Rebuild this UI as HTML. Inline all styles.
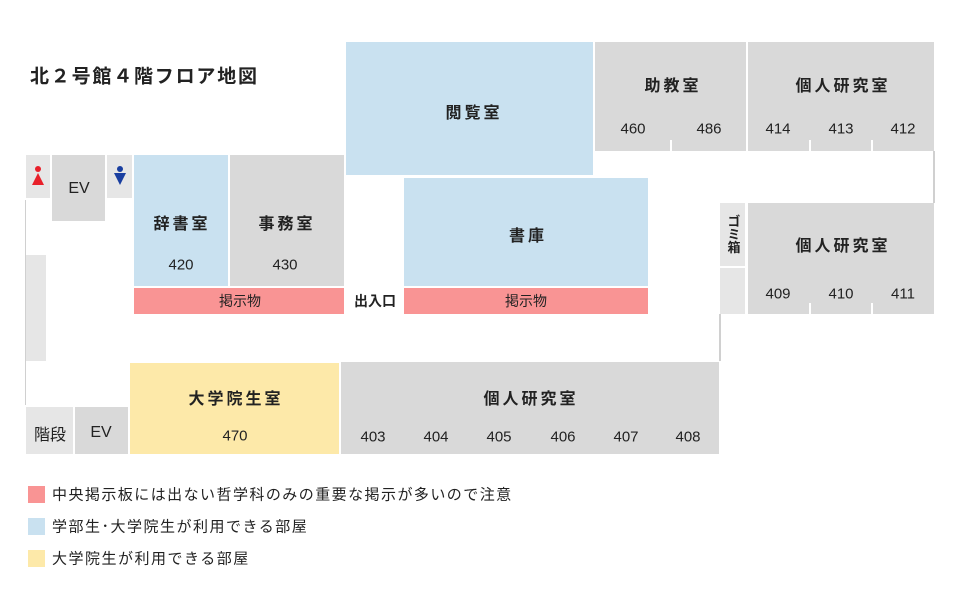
<!DOCTYPE html>
<html><head><meta charset="utf-8"><style>
body{margin:0;width:960px;height:615px;background:#fff;position:relative;overflow:hidden;font-family:"Liberation Sans","Noto Sans CJK JP",sans-serif;color:#222}
.b{position:absolute}
.g{background:#d9d9d9}.l{background:#e6e6e6}.bl{background:#c9e1f0}.y{background:#fde9a9}.p{background:#f99494}
.t{position:absolute;transform:translate(-50%,-50%);white-space:nowrap;font-size:15px}
.n{font-weight:bold;letter-spacing:3px;font-size:16px}
.line{position:absolute;background:#d0d0d0}
.tick{position:absolute;background:#fff;width:2px}
</style></head><body>
<div class="t" style="left:30px;top:75px;transform:translateY(-50%);font-size:19px;font-weight:bold;letter-spacing:1.8px">北２号館４階フロア地図</div>

<div class="b bl" style="left:346px;top:42px;width:247px;height:133px"></div>
<div class="t n" style="left:474px;top:111px">閲覧室</div>
<div class="b g" style="left:595px;top:42px;width:151px;height:109px"></div>
<div class="t n" style="left:673px;top:84px">助教室</div>
<div class="t" style="left:633px;top:129px">460</div><div class="t" style="left:709px;top:129px">486</div>
<div class="tick" style="left:670px;top:140px;height:11px"></div>
<div class="b g" style="left:748px;top:42px;width:186px;height:109px"></div>
<div class="t n" style="left:843px;top:84px">個人研究室</div>
<div class="t" style="left:778px;top:129px">414</div><div class="t" style="left:841px;top:129px">413</div><div class="t" style="left:903px;top:129px">412</div>
<div class="tick" style="left:809px;top:140px;height:11px"></div><div class="tick" style="left:871px;top:140px;height:11px"></div>
<div class="line" style="left:933px;top:151px;width:2px;height:52px"></div>

<div class="b l" style="left:720px;top:203px;width:25px;height:63px"></div>
<div class="t" style="left:733px;top:234px;writing-mode:vertical-rl;font-size:13px;font-weight:bold">ゴミ箱</div>
<div class="b l" style="left:720px;top:268px;width:25px;height:46px"></div>
<div class="b g" style="left:748px;top:203px;width:186px;height:111px"></div>
<div class="t n" style="left:843px;top:244px">個人研究室</div>
<div class="t" style="left:778px;top:294px">409</div><div class="t" style="left:841px;top:294px">410</div><div class="t" style="left:903px;top:294px">411</div>
<div class="tick" style="left:809px;top:303px;height:11px"></div><div class="tick" style="left:871px;top:303px;height:11px"></div>
<div class="line" style="left:719px;top:314px;width:2px;height:47px"></div>

<div class="b bl" style="left:404px;top:178px;width:244px;height:108px"></div>
<div class="t n" style="left:528px;top:234px">書庫</div>
<div class="b p" style="left:404px;top:288px;width:244px;height:26px"></div>
<div class="t" style="left:526px;top:301px;font-size:14px">掲示物</div>
<div class="t" style="left:375px;top:301px;font-size:14px;font-weight:bold">出入口</div>

<div class="b l" style="left:26px;top:155px;width:24px;height:43px"></div>
<svg class="b" style="left:31px;top:166px" width="14" height="22"><circle cx="7" cy="3" r="3" fill="#e8202a"/><polygon points="7,7 13,19 1,19" fill="#e8202a"/></svg>
<div class="b g" style="left:52px;top:155px;width:53px;height:66px"></div>
<div class="t" style="left:79px;top:189px;font-size:16px">EV</div>
<div class="b l" style="left:107px;top:155px;width:25px;height:43px"></div>
<svg class="b" style="left:113px;top:166px" width="14" height="22"><circle cx="7" cy="3" r="3" fill="#1a3fa0"/><polygon points="1,7 13,7 7,19" fill="#1a3fa0"/></svg>
<div class="b bl" style="left:134px;top:155px;width:94px;height:131px"></div>
<div class="t n" style="left:182px;top:222px">辞書室</div>
<div class="t" style="left:181px;top:265px">420</div>
<div class="b g" style="left:230px;top:155px;width:114px;height:131px"></div>
<div class="t n" style="left:287px;top:222px">事務室</div>
<div class="t" style="left:285px;top:265px">430</div>
<div class="b p" style="left:134px;top:288px;width:210px;height:26px"></div>
<div class="t" style="left:240px;top:301px;font-size:14px">掲示物</div>
<div class="line" style="left:25px;top:200px;width:1px;height:205px"></div>
<div class="b l" style="left:26px;top:255px;width:20px;height:106px"></div>

<div class="b y" style="left:130px;top:363px;width:209px;height:91px"></div>
<div class="t n" style="left:236px;top:397px">大学院生室</div>
<div class="t" style="left:235px;top:436px">470</div>
<div class="b l" style="left:26px;top:407px;width:47px;height:47px"></div>
<div class="t" style="left:50px;top:433px;font-size:16px">階段</div>
<div class="b g" style="left:75px;top:407px;width:53px;height:47px"></div>
<div class="t" style="left:101px;top:433px;font-size:16px">EV</div>

<div class="b g" style="left:341px;top:362px;width:378px;height:92px"></div>
<div class="t n" style="left:531px;top:397px">個人研究室</div>
<div class="t" style="left:373px;top:437px">403</div><div class="t" style="left:436px;top:437px">404</div><div class="t" style="left:499px;top:437px">405</div><div class="t" style="left:563px;top:437px">406</div><div class="t" style="left:626px;top:437px">407</div><div class="t" style="left:688px;top:437px">408</div>

<div class="b p" style="left:28px;top:486px;width:17px;height:17px"></div>
<div class="t" style="left:52px;top:494px;transform:translateY(-50%);font-size:15px;letter-spacing:1.45px">中央掲示板には出ない哲学科のみの重要な掲示が多いので注意</div>
<div class="b bl" style="left:28px;top:518px;width:17px;height:17px"></div>
<div class="t" style="left:52px;top:526px;transform:translateY(-50%);font-size:15px;letter-spacing:1.5px">学部生･大学院生が利用できる部屋</div>
<div class="b y" style="left:28px;top:550px;width:17px;height:17px"></div>
<div class="t" style="left:52px;top:558px;transform:translateY(-50%);font-size:15px;letter-spacing:1.5px">大学院生が利用できる部屋</div>
</body></html>
